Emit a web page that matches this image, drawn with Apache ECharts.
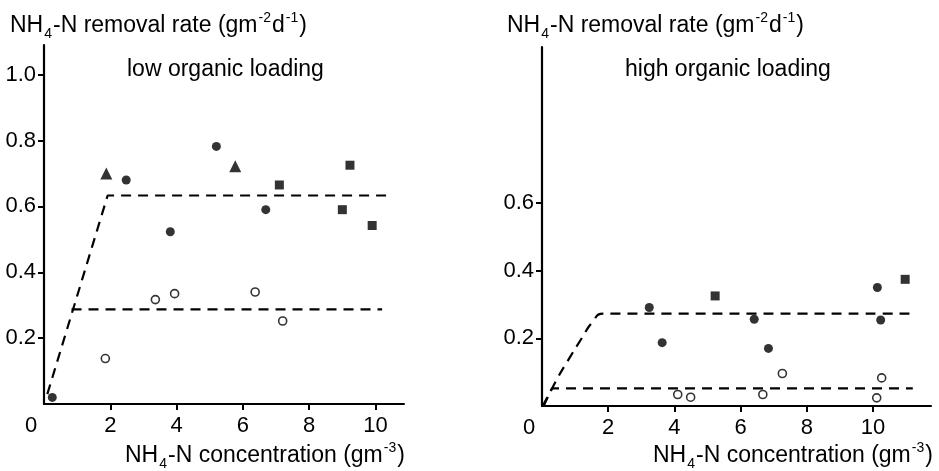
<!DOCTYPE html>
<html><head><meta charset="utf-8">
<script src="https://cdn.jsdelivr.net/npm/echarts@6/dist/echarts.min.js"></script>
<style>html,body{margin:0;padding:0;background:#fff}#c{width:939px;height:471px}</style>
</head><body><div id="c"></div>
<script>
// ---------- data ----------
const xTickValues = [0, 2, 4, 6, 8, 10];
const leftYTickValues = [0.2, 0.4, 0.6, 0.8, 1.0];
const rightYTickValues = [0.2, 0.4, 0.6];

// low organic loading
const lowFilledCircle = [[0.25, 0.02], [2.48, 0.68], [3.81, 0.523], [5.2, 0.782], [6.69, 0.59]];
const lowTriangle = [[1.88, 0.70], [5.77, 0.722]];
const lowSquare = [[7.1, 0.665], [9.23, 0.725], [9.0, 0.59], [9.9, 0.542]];
const lowOpenCircle = [[1.85, 0.138], [3.36, 0.317], [3.94, 0.335], [6.37, 0.34], [7.2, 0.252]];
const lowUpperLine = [[0.1, 0.03], [1.92, 0.633], [10.5, 0.633]];
const lowLowerLine = [[0.83, 0.287], [10.2, 0.287]];

// high organic loading
const highFilledCircle = [[3.24, 0.291], [3.63, 0.187], [6.41, 0.256], [6.84, 0.17], [10.23, 0.254], [10.13, 0.35]];
const highSquare = [[5.23, 0.325], [10.97, 0.374]];
const highOpenCircle = [[4.1, 0.034], [4.49, 0.026], [6.67, 0.034], [7.26, 0.096], [10.26, 0.083], [10.11, 0.024]];
const highUpperLine = [[0.05, 0.0], [0.44, 0.077], [0.85, 0.145], [1.2, 0.2], [1.5, 0.245], [1.85, 0.273], [11.3, 0.273]];
const highLowerLine = [[0.02, 0.0], [0.3, 0.052], [11.2, 0.052]];

const yTitle = 'NH{sub|4}-N removal rate (gm{sup|-2}d{sup|-1})';
const xTitle = 'NH{sub|4}-N concentration (gm{sup|-3})';
const leftLabel = 'low organic loading';
const rightLabel = 'high organic loading';

// ---------- style ----------
const FONT = '"Liberation Sans", Arial, sans-serif';
const rich = {
  b: {fontFamily: FONT, fontSize: 23, fontWeight: 'normal', color: '#000', lineHeight: 30, verticalAlign: 'middle'},
  sub: {fontFamily: FONT, fontSize: 14, fontWeight: 'normal', color: '#000', lineHeight: 30, verticalAlign: 'bottom', padding: [0, 1, 0, 1]},
  sup: {fontFamily: FONT, fontSize: 14, fontWeight: 'normal', color: '#000', lineHeight: 30, verticalAlign: 'top', padding: [0, 1, 0, 1]}
};
function wrap(s) {
  return s.split(/(\{(?:sub|sup)\|[^}]*\})/).filter(p => p.length).map(p => p.startsWith('{') ? p : '{b|' + p + '}').join('');
}
const axisLineStyle = {color: '#000', width: 2};
const labelStyle = {color: '#000', fontFamily: FONT, fontSize: 22};

function xAxis(gi, max) {
  return {
    type: 'value', gridIndex: gi, min: 0, max: max, interval: 2,
    axisLine: {show: true, onZero: false, lineStyle: axisLineStyle},
    axisTick: {show: true, inside: false, length: 6, customValues: [2, 4, 6, 8, 10], lineStyle: {color: '#000', width: 2}},
    axisLabel: {
      show: true, margin: 11, customValues: xTickValues, ...labelStyle,
      formatter: v => v === 0 ? '{z|0}' : String(v),
      rich: {z: {...labelStyle, padding: [0, 26, 0, 0]}}
    },
    splitLine: {show: false}
  };
}
function yAxis(gi, max, vals) {
  return {
    type: 'value', gridIndex: gi, min: 0, max: max, interval: 0.2,
    axisLine: {show: true, onZero: false, lineStyle: {color: '#000', width: 2.2}},
    axisTick: {show: true, length: 6, customValues: vals, lineStyle: {color: '#000', width: 2}},
    axisLabel: {show: true, margin: 8, customValues: vals, ...labelStyle, formatter: v => v.toFixed(1)},
    splitLine: {show: false}
  };
}
const dash = {color: '#000', width: 2.2, type: [10, 7]};
function line(xi, data, smooth) {
  return {type: 'line', xAxisIndex: xi, yAxisIndex: xi, data: data, symbol: 'none', smooth: !!smooth,
    lineStyle: dash, silent: true, z: 1, animation: false};
}
function scatter(xi, data, symbol, size, open) {
  return {type: 'scatter', xAxisIndex: xi, yAxisIndex: xi, data: data, symbol: symbol, symbolSize: size,
    itemStyle: open ? {color: '#fff', borderColor: '#000', borderWidth: 1.6} : {color: '#000'},
    z: 3, animation: false};
}

const chart = echarts.init(document.getElementById('c'), null, {renderer: 'canvas'});
chart.setOption({
  backgroundColor: '#fff',
  animation: false,
  title: [
    {text: wrap(yTitle), left: 5, top: 6, textStyle: {fontWeight: 'normal', rich}},
    {text: wrap(yTitle), left: 502, top: 6, textStyle: {fontWeight: 'normal', rich}},
    {text: '{b|' + leftLabel + '}', left: 122, top: 50, textStyle: {fontWeight: 'normal', rich}},
    {text: '{b|' + rightLabel + '}', left: 620, top: 50, textStyle: {fontWeight: 'normal', rich}},
    {text: wrap(xTitle), left: 120, top: 436, textStyle: {fontWeight: 'normal', rich}},
    {text: wrap(xTitle), left: 648, top: 436, textStyle: {fontWeight: 'normal', rich}}
  ],
  grid: [
    {left: 44, top: 45, width: 360, height: 359},
    {left: 542, top: 47, width: 389, height: 359}
  ],
  xAxis: [xAxis(0, 10.86), xAxis(1, 11.75)],
  yAxis: [yAxis(0, 1.09, leftYTickValues), yAxis(1, 1.06, rightYTickValues)],
  series: [
    line(0, lowUpperLine), line(0, lowLowerLine),
    scatter(0, lowFilledCircle, 'circle', 9),
    scatter(0, lowTriangle, 'triangle', 12),
    scatter(0, lowSquare, 'rect', 9),
    scatter(0, lowOpenCircle, 'circle', 8, true),
    line(1, highUpperLine, 0.4), line(1, highLowerLine),
    scatter(1, highFilledCircle, 'circle', 9),
    scatter(1, highSquare, 'rect', 9),
    scatter(1, highOpenCircle, 'circle', 8, true)
  ]
});
</script></body></html>
